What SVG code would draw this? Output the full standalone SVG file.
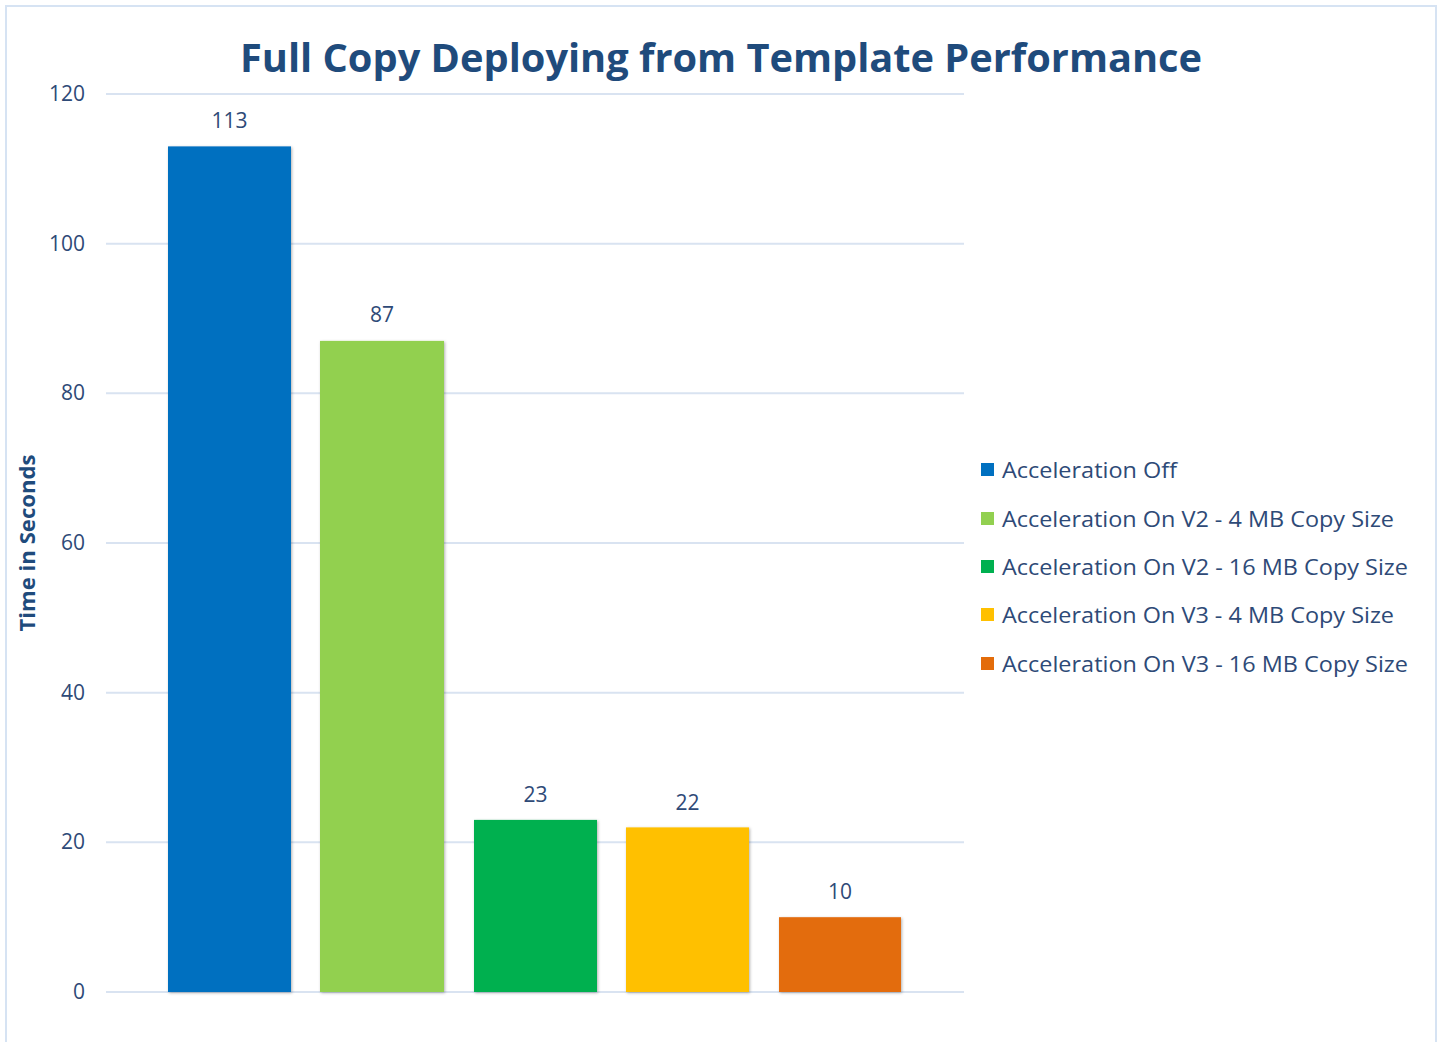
<svg xmlns="http://www.w3.org/2000/svg" width="1441" height="1042" viewBox="0 0 1441 1042">
  <style>
    .grid { stroke: #D9E3F1; stroke-width: 2; }
    .tick { font-family: "Open Sans", "Noto Sans", sans-serif; font-size: 21px; fill: #2E4A77; text-anchor: end; }
    .val { font-family: "Open Sans", "Noto Sans", sans-serif; font-size: 21px; fill: #2E4A77; text-anchor: middle; }
    .title { font-family: "Open Sans", "Noto Sans", sans-serif; font-size: 40px; font-weight: bold; fill: #1F4B7C; text-anchor: middle; }
    .axis-title { font-family: "Open Sans", "Noto Sans", sans-serif; font-size: 22px; font-weight: bold; fill: #1F4B7C; text-anchor: middle; }
    .legend { font-family: "Open Sans", "Noto Sans", sans-serif; font-size: 22px; fill: #2E4A77; }
  </style>
  <defs>
    <filter id="shadow" x="-10%" y="-10%" width="120%" height="120%">
      <feDropShadow dx="1" dy="1" stdDeviation="1.5" flood-color="#000" flood-opacity="0.3"/>
    </filter>
  </defs>

  <!-- chart area background and frame -->
  <rect x="0" y="0" width="1441" height="1042" fill="#ffffff"/>
  <rect x="6" y="6" width="1430" height="1050" fill="none" stroke="#D6E3F3" stroke-width="2"/>

  <!-- title -->
  <text class="title" x="721" y="72" textLength="962" lengthAdjust="spacingAndGlyphs">Full Copy Deploying from Template Performance</text>

  <!-- vertical axis title -->
  <text class="axis-title" transform="translate(35,543) rotate(-90)" textLength="177" lengthAdjust="spacingAndGlyphs">Time in Seconds</text>

  <!-- gridlines and tick labels -->
  <g id="value-axis">
    <line class="grid" x1="106" y1="94" x2="964" y2="94"/>
    <line class="grid" x1="106" y1="243.7" x2="964" y2="243.7"/>
    <line class="grid" x1="106" y1="393.3" x2="964" y2="393.3"/>
    <line class="grid" x1="106" y1="543" x2="964" y2="543"/>
    <line class="grid" x1="106" y1="692.7" x2="964" y2="692.7"/>
    <line class="grid" x1="106" y1="842.3" x2="964" y2="842.3"/>
    <line class="grid" x1="106" y1="992" x2="964" y2="992"/>
    <text class="tick" x="85" y="101">120</text>
    <text class="tick" x="85" y="251">100</text>
    <text class="tick" x="85" y="400">80</text>
    <text class="tick" x="85" y="550">60</text>
    <text class="tick" x="85" y="700">40</text>
    <text class="tick" x="85" y="849">20</text>
    <text class="tick" x="85" y="999">0</text>
  </g>

  <!-- bars -->
  <g id="bar-accel-off">
    <rect x="168" y="146.4" width="123" height="845.6" fill="#0070C0" filter="url(#shadow)"/>
    <text class="val" x="229.5" y="128">113</text>
  </g>
  <g id="bar-v2-4mb">
    <rect x="320" y="340.9" width="124" height="651.1" fill="#92D050" filter="url(#shadow)"/>
    <text class="val" x="382" y="322">87</text>
  </g>
  <g id="bar-v2-16mb">
    <rect x="474" y="819.9" width="123" height="172.1" fill="#00B050" filter="url(#shadow)"/>
    <text class="val" x="535.5" y="802">23</text>
  </g>
  <g id="bar-v3-4mb">
    <rect x="626" y="827.4" width="123" height="164.6" fill="#FFC000" filter="url(#shadow)"/>
    <text class="val" x="687.5" y="810">22</text>
  </g>
  <g id="bar-v3-16mb">
    <rect x="779" y="917.2" width="122" height="74.8" fill="#E36C0A" filter="url(#shadow)"/>
    <text class="val" x="840" y="899">10</text>
  </g>

  <!-- legend -->
  <g id="legend">
    <rect x="981" y="463" width="13" height="13" fill="#0070C0"/>
    <text class="legend" x="1002" y="478" textLength="175" lengthAdjust="spacingAndGlyphs">Acceleration Off</text>
    <rect x="981" y="512" width="13" height="13" fill="#92D050"/>
    <text class="legend" x="1002" y="527" textLength="392" lengthAdjust="spacingAndGlyphs">Acceleration On V2 - 4 MB Copy Size</text>
    <rect x="981" y="560" width="13" height="13" fill="#00B050"/>
    <text class="legend" x="1002" y="575" textLength="406" lengthAdjust="spacingAndGlyphs">Acceleration On V2 - 16 MB Copy Size</text>
    <rect x="981" y="608" width="13" height="13" fill="#FFC000"/>
    <text class="legend" x="1002" y="623" textLength="392" lengthAdjust="spacingAndGlyphs">Acceleration On V3 - 4 MB Copy Size</text>
    <rect x="981" y="657" width="13" height="13" fill="#E36C0A"/>
    <text class="legend" x="1002" y="672" textLength="406" lengthAdjust="spacingAndGlyphs">Acceleration On V3 - 16 MB Copy Size</text>
  </g>
</svg>
